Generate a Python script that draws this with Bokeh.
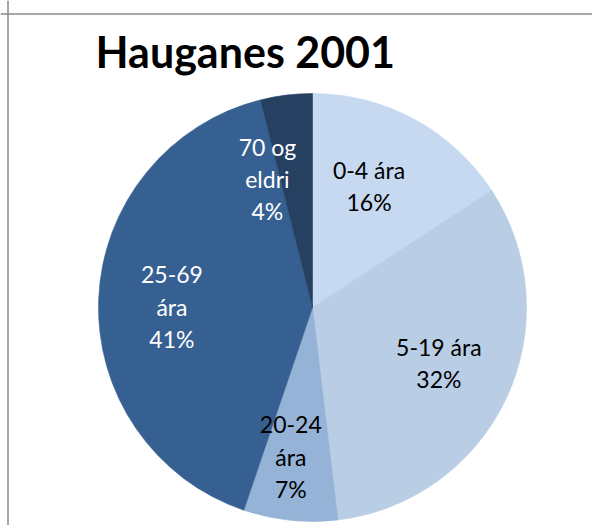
import numpy as np
from bokeh.plotting import figure
from bokeh.models import Range1d, Label, Span, ColumnDataSource
from bokeh.core.properties import value
from bokeh.embed import file_html
from bokeh.resources import INLINE

# ---- data ----
title_text = "Hauganes 2001"
categories = ["0-4 ára", "5-19 ára", "20-24 ára", "25-69 ára", "70 og eldri"]
shares = [15.8, 32.3, 7.1, 40.9, 3.9]
# how each category name is wrapped inside its slice
label_names = ["0-4 ára", "5-19 ára", "20-24\nára", "25-69\nára", "70 og\neldri"]

# ---- style ----
colors = ["#C6D9F1", "#B9CDE5", "#95B3D7", "#376092", "#254061"]
text_colors = ["#000000", "#000000", "#000000", "#FFFFFF", "#FFFFFF"]
label_radius = [0.624, 0.646, 0.708, 0.657, 0.634]     # fraction of pie radius
label_nudge_deg = [-3.4, -1.1, 2.3, -2.3, -12.4]       # angular nudge (clockwise)

W, H = 592, 525
cx, cy, R = 312, 218, 214
FONT = "Lato"
LINE_SP = 32
CAP = 16
LABEL_SHIFT = 8.8   # renderer baseline correction (px)
TITLE_SHIFT = 15

p = figure(width=W, height=H, x_range=Range1d(0, W), y_range=Range1d(0, H),
           x_axis_type=None, y_axis_type=None, output_backend="svg",
           toolbar_location=None, min_border=0)
p.grid.visible = False
p.outline_line_color = None
p.background_fill_color = "white"
p.border_fill_color = "white"

vals = np.array(shares, dtype=float)
frac = vals / vals.sum()
cum = np.concatenate([[0.0], np.cumsum(frac)])
start = np.pi / 2 - 2 * np.pi * cum[:-1]
end = np.pi / 2 - 2 * np.pi * cum[1:]

src = ColumnDataSource(dict(start=start, end=end, color=colors, cat=categories))
p.wedge(x=cx, y=cy, radius=R, start_angle="start", end_angle="end",
        direction="clock", fill_color="color", line_color="color",
        line_width=0.6, source=src)

# labels
xs, ys, txt, tcol = [], [], [], []
for i, name in enumerate(label_names):
    pct = f"{int(round(frac[i] * 100))}%"
    lines = name.split("\n") + [pct]
    n = len(lines)
    theta = 2 * np.pi * (cum[i] + cum[i + 1]) / 2 + np.radians(label_nudge_deg[i])
    lx = cx + label_radius[i] * R * np.sin(theta)
    mid = cy + label_radius[i] * R * np.cos(theta)
    b1 = mid + ((n - 1) * LINE_SP - CAP) / 2 + LABEL_SHIFT
    for k, ln in enumerate(lines):
        xs.append(lx)
        ys.append(b1 - k * LINE_SP)
        txt.append(ln)
        tcol.append(text_colors[i])

p.text(x=xs, y=ys, text=txt, text_color=tcol, text_font=value(FONT),
       text_font_size="23px", text_align="center", text_baseline="alphabetic")

p.add_layout(Label(x=95, y=459 + TITLE_SHIFT, text=title_text, text_font=FONT,
                   text_font_style="bold", text_font_size="43px",
                   text_color="#000000", text_baseline="alphabetic"))

# chart-area frame (only top and left edges fall inside the view)
p.add_layout(Span(location=511.5, dimension="width", line_color="#898989", line_width=1.5))
p.add_layout(Span(location=7.5, dimension="height", line_color="#898989", line_width=1.5))

open("out.html", "w").write(file_html(p, INLINE))
